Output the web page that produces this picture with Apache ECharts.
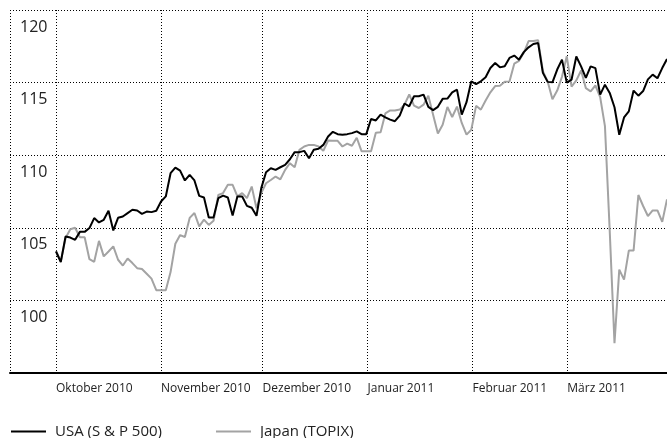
<!DOCTYPE html>
<html>
<head>
<meta charset="utf-8">
<script src="https://cdn.jsdelivr.net/npm/echarts@6/dist/echarts.min.js"></script>
<style>
  html, body { margin: 0; padding: 0; background: #fff; }
  #chart { width: 667px; height: 438px; }
</style>
</head>
<body>
<div id="chart"></div>
<script>
// Monatsnamen für die Achse
var monate = ['Januar', 'Februar', 'März', 'April', 'Mai', 'Juni', 'Juli',
    'August', 'September', 'Oktober', 'November', 'Dezember'];

var serienNamen = ['USA (S & P 500)', 'Japan (TOPIX)'];

// Handelstage ab 1. Oktober 2010, gleichmäßig verteilt
var usaWerte = [103.37, 102.64, 104.40, 104.33, 104.17, 104.72, 104.72, 104.98, 105.67, 105.37,
    105.55, 106.17, 104.82, 105.69, 105.78, 106.01, 106.24, 106.19, 105.96, 106.12,
    106.08, 106.17, 106.81, 107.16, 108.76, 109.15, 108.94, 108.26, 108.65, 108.26,
    107.20, 107.09, 105.71, 105.71, 107.04, 107.22, 107.09, 105.85, 107.16, 107.16,
    106.51, 106.38, 105.83, 107.73, 108.83, 109.10, 108.99, 109.17, 109.33, 109.72,
    110.21, 110.21, 110.30, 109.79, 110.37, 110.44, 110.71, 111.29, 111.61, 111.45,
    111.41, 111.45, 111.52, 111.64, 111.45, 111.45, 112.49, 112.39, 112.80, 112.61,
    112.45, 112.34, 112.73, 113.56, 113.37, 114.06, 114.06, 114.17, 113.33, 113.10,
    113.33, 113.88, 113.90, 114.33, 114.52, 112.80, 113.65, 115.09, 114.90, 115.09,
    115.37, 116.01, 116.35, 116.05, 116.12, 116.70, 116.86, 116.58, 117.10, 117.43,
    117.66, 117.72, 115.67, 115.05, 115.02, 115.90, 116.58, 115.00, 115.20, 116.80,
    116.12, 115.32, 116.12, 116.00, 114.17, 114.86, 114.29, 113.30, 111.41, 112.60,
    113.02, 114.45, 114.10, 114.42, 115.22, 115.55, 115.30, 116.00, 116.62];

var japanWerte = [103.40, 102.70, 104.30, 104.90, 105.00, 104.35, 104.35, 102.84, 102.66, 104.10,
    103.03, 103.37, 103.72, 102.80, 102.40, 102.89, 102.57, 102.22, 102.16, 101.83,
    101.50, 100.70, 100.70, 100.70, 101.95, 103.90, 104.50, 104.37, 105.68, 106.02,
    105.10, 105.56, 105.20, 105.48, 107.26, 107.39, 107.96, 107.96, 107.16, 107.39,
    107.04, 107.84, 106.35, 107.39, 108.07, 108.29, 108.53, 108.34, 108.99, 109.45,
    109.17, 110.37, 110.60, 110.71, 110.71, 110.60, 110.30, 111.01, 110.99, 110.99,
    110.60, 110.80, 110.65, 111.20, 110.28, 110.28, 110.28, 111.55, 111.58, 112.88,
    113.08, 113.08, 113.14, 113.48, 114.18, 113.41, 113.25, 113.48, 114.10, 112.79,
    111.49, 112.10, 113.32, 112.63, 113.35, 112.22, 111.42, 111.75, 113.40, 113.14,
    113.77, 114.33, 114.76, 114.78, 115.06, 115.08, 116.30, 116.50, 117.05, 117.86,
    117.86, 117.92, 115.78, 115.08, 113.85, 114.45, 115.40, 116.81, 114.72, 115.15,
    115.83, 114.62, 114.40, 114.80, 114.00, 112.00, 104.80, 97.05, 102.12, 101.43,
    103.43, 103.43, 107.26, 106.50, 105.81, 106.20, 106.20, 105.41, 106.96];

function paare(werte) {
    return werte.map(function (v, i) { return [i, v]; });
}

var TAG = 86400000;
var okt1 = new Date(2010, 9, 1).getTime();
var mrz1 = new Date(2011, 2, 1).getTime();

var myChart = echarts.init(document.getElementById('chart'));
var option = {
    animation: false,
    backgroundColor: '#fff',
    textStyle: { fontFamily: 'Open Sans' },
    grid: {
        left: 10, right: 0, top: 10, bottom: 65,
        containLabel: false,
        outerBoundsMode: 'none'
    },
    legend: {
        left: 11,
        top: 424,
        padding: 0,
        icon: 'rect',
        itemWidth: 35,
        itemHeight: 2,
        itemGap: 54,
        data: serienNamen,
        textStyle: { fontSize: 15, color: '#222', padding: [0, 0, 0, 4] }
    },
    xAxis: [
        {
            // Handelstage (Index), unsichtbar
            type: 'value',
            show: false,
            min: -9.64,
            max: 128
        },
        {
            type: 'time',
            position: 'bottom',
            min: okt1 - 13.59 * TAG,
            max: mrz1 + 29.44 * TAG,
            minInterval: 28 * TAG,
            maxInterval: 31 * TAG,
            axisLine: { show: true, lineStyle: { color: '#000', width: 2 } },
            axisTick: { show: false },
            splitLine: {
                show: true,
                lineStyle: { color: '#000', width: 1, type: [1, 2] }
            },
            axisLabel: {
                showMinLabel: false,
                showMaxLabel: false,
                align: 'left',
                margin: 10,
                fontSize: 12,
                color: '#222',
                formatter: function (val) {
                    var d = new Date(val);
                    return monate[d.getMonth()] + ' ' + d.getFullYear();
                }
            }
        }
    ],
    yAxis: {
        type: 'value',
        min: 95,
        max: 120,
        interval: 5,
        axisLine: { show: false },
        axisTick: { show: false },
        splitLine: {
            show: true,
            lineStyle: { color: '#000', width: 1, type: [1, 2] }
        },
        axisLabel: {
            inside: true,
            showMinLabel: false,
            margin: 10,
            align: 'left',
            verticalAlign: 'top',
            padding: [9, 0, 0, 0],
            fontSize: 16,
            color: '#222'
        }
    },
    series: [
        {
            name: serienNamen[1],
            type: 'line',
            xAxisIndex: 0,
            showSymbol: false,
            symbol: 'none',
            color: '#a3a3a3',
            lineStyle: { color: '#a3a3a3', width: 2 },
            data: paare(japanWerte)
        },
        {
            name: serienNamen[0],
            type: 'line',
            xAxisIndex: 0,
            showSymbol: false,
            symbol: 'none',
            color: '#000',
            lineStyle: { color: '#000', width: 2 },
            data: paare(usaWerte)
        }
    ]
};
myChart.setOption(option);
</script>
</body>
</html>
